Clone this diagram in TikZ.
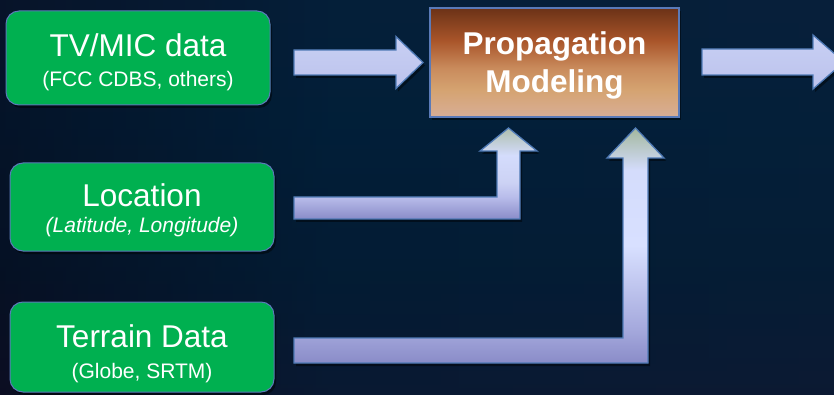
\documentclass[tikz,border=0pt]{standalone}
\usepackage{fontspec}
\setmainfont{Liberation Sans}
\usetikzlibrary{shadows}
\definecolor{boxgreen}{HTML}{00B050}
\definecolor{edgeblue}{HTML}{5A7AB8}
\definecolor{arrowedge}{HTML}{4F7AB6}
\definecolor{pb1}{HTML}{6B3217}
\definecolor{pb2}{HTML}{A9552A}
\definecolor{pb3}{HTML}{C98B5C}
\definecolor{pb4}{HTML}{D5A371}
\definecolor{pb5}{HTML}{D8AE96}
\definecolor{ag}{HTML}{A3B89E}
\definecolor{ag1}{HTML}{AEBFAE}
\definecolor{al}{HTML}{D4DCFC}
\definecolor{am}{HTML}{D8E0FF}
\definecolor{ad}{HTML}{A4A8DC}
\definecolor{ab}{HTML}{8A8CC8}
\definecolor{al2}{HTML}{CCD2F4}
\definecolor{al3}{HTML}{B8BCEA}
\definecolor{ht}{HTML}{C8D0F4}
\definecolor{hmid}{HTML}{DCE4FF}
\definecolor{hb}{HTML}{BCC2EC}
\definecolor{bgt}{HTML}{0B2A4E}
\definecolor{bgm}{HTML}{032A4C}
\definecolor{bgl}{HTML}{06223F}
\definecolor{bgb}{HTML}{171A3A}
\definecolor{hl}{HTML}{0A0C22}
\definecolor{hm}{HTML}{03284A}
\definecolor{hr}{HTML}{0A2A4C}
\pgfdeclareverticalshading{propshade}{100bp}{color(0bp)=(pb5); color(25bp)=(pb5); color(37.5bp)=(pb4); color(47.5bp)=(pb3); color(60bp)=(pb2); color(75bp)=(pb1); color(100bp)=(pb1)}
\pgfdeclareverticalshading{ltwoshade}{100bp}{color(0bp)=(ab); color(25bp)=(ab); color(32bp)=(ad); color(50bp)=(am); color(66bp)=(al); color(75bp)=(ag); color(100bp)=(ag)}
\pgfdeclareverticalshading{loneshade}{100bp}{color(0bp)=(ab); color(25bp)=(ab); color(37bp)=(al3); color(45bp)=(al2); color(60bp)=(al); color(75bp)=(ag1); color(100bp)=(ag1)}
\pgfdeclareverticalshading{bgvshade}{100bp}{color(0bp)=(bgb); color(25bp)=(bgb); color(40bp)=(bgl); color(60bp)=(bgm); color(75bp)=(bgt); color(100bp)=(bgt)}
\pgfdeclarehorizontalshading{bghshade}{100bp}{color(0bp)=(hl); color(25bp)=(hl); color(45bp)=(hm); color(75bp)=(hr); color(100bp)=(hr)}
\tikzset{
  shad/.style={drop shadow={opacity=0.45, shadow xshift=2pt, shadow yshift=-3pt, fill=black}},
  gbox/.style={draw=edgeblue, line width=1pt, fill=boxgreen, rounded corners=13pt, shad},
  propbox/.style={draw=edgeblue, line width=1.5pt, shading=propshade, shad, minimum width=249pt, minimum height=109pt, inner sep=0pt},
  title/.style={text=white, inner sep=0pt, anchor=base, font=\fontsize{31.5}{36}\selectfont},
  sub/.style={text=white, inner sep=0pt, anchor=base, font=\fontsize{21}{25}\selectfont},
  ptitle/.style={text=white, inner sep=0pt, anchor=base, font=\fontsize{31.5}{36}\selectfont\bfseries},
  harrow/.style={draw=arrowedge, line width=1.3pt, top color=ht, middle color=hmid, bottom color=hb, shad},
  larrow/.style={draw=arrowedge, line width=1.3pt, shad},
}
\begin{document}
\begin{tikzpicture}[x=1pt, y=-1pt]
\useasboundingbox (0,0) rectangle (834,395);
\clip (0,0) rectangle (834,395);
% background
\fill[shading=bgvshade] (0,0) rectangle (834,395);
\fill[shading=bghshade, fill opacity=0.4] (0,0) rectangle (834,395);
% boxes
\node[gbox, minimum width=264pt, minimum height=94pt] (tv) at (138,58) {};
\node[gbox, minimum width=264pt, minimum height=88pt] (loc) at (142,207) {};
\node[gbox, minimum width=264pt, minimum height=90pt] (ter) at (142,347) {};
\node[propbox] (prop) at (554.5,62.5) {};
% texts
\node[title] (tvt) at (138,57) {TV/MIC data};
\node[sub] (tvs) at (138,87) {(FCC CDBS, others)};
\node[title] (loct) at (142,207) {Location};
\node[sub, font=\fontsize{21}{25}\selectfont\itshape] (locs) at (142,233) {(Latitude, Longitude)};
\node[title] (tert) at (142,347) {Terrain Data};
\node[sub] (ters) at (142,378) {(Globe, SRTM)};
\node[ptitle] (pt1) at (554.5,55) {Propagation};
\node[ptitle] (pt2) at (554.5,93) {Modeling};
% arrows
\coordinate (a1s) at (294,62.5);
\coordinate (a1e) at (423,62.5);
\draw[harrow] ([shift={(0,-12.5)}]a1s) -- ([shift={(-27,-12.5)}]a1e) -- ([shift={(-27,-26)}]a1e) -- (a1e)
  -- ([shift={(-27,26)}]a1e) -- ([shift={(-27,12.5)}]a1e) -- ([shift={(0,12.5)}]a1s) -- cycle;
\coordinate (a2s) at (702,62);
\coordinate (a2e) at (844,62);
\draw[harrow] ([shift={(0,-13)}]a2s) -- ([shift={(-31,-13)}]a2e) -- ([shift={(-31,-27)}]a2e) -- (a2e)
  -- ([shift={(-31,27)}]a2e) -- ([shift={(-31,13)}]a2e) -- ([shift={(0,13)}]a2s) -- cycle;
\draw[larrow, shading=loneshade] (294,197) -- (497,197) -- (497,151) -- (480,151) -- (508.5,128)
  -- (537,151) -- (520,151) -- (520,219) -- (294,219) -- cycle;
\draw[larrow, shading=ltwoshade] (294,338) -- (623,338) -- (623,158) -- (607,158) -- (635.5,128)
  -- (664,158) -- (648,158) -- (648,363) -- (294,363) -- cycle;
\end{tikzpicture}
\end{document}
